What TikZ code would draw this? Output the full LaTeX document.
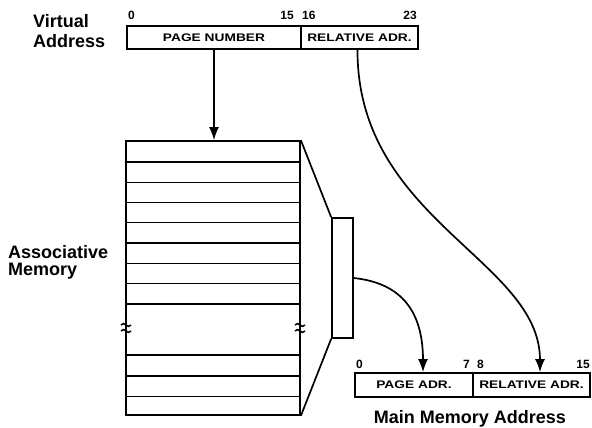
\documentclass[tikz,border=0pt]{standalone}
\usepackage{fontspec}
\setmainfont{Liberation Sans}
\newfontfamily\widefont[FakeStretch=1.25]{Liberation Sans}
\usetikzlibrary{arrows.meta,calc}
\begin{document}
\begin{tikzpicture}[x=1pt,y=-1pt,
  frame/.style={draw,line width=1.7pt,inner sep=0pt},
  field/.style={frame,minimum height=23pt,font=\widefont\bfseries\fontsize{11}{12}\selectfont},
  big/.style={font=\bfseries\fontsize{18}{20}\selectfont,inner sep=0pt},
  num/.style={font=\bfseries\fontsize{12}{13}\selectfont,inner sep=0pt},
  row/.style={line width=1.5pt},
  arr/.style={line width=1.7pt,-{Latex[length=13pt,width=10pt]}}]
\useasboundingbox (0,0) rectangle (592,428);

% Virtual address
\node[field,minimum width=174pt] (va1) at (214,37.5) {PAGE NUMBER};
\node[field,minimum width=117pt] (va2) at (359.5,37.5) {RELATIVE ADR.};
\node[big,anchor=base west] (vt1) at (33,28) {Virtual};
\node[big,anchor=base west] (vt2) at (33,48) {Address};
\node[num,anchor=base west] (n0) at (128,20) {0};
\node[num,anchor=base east] (n15) at (294,20) {15};
\node[num,anchor=base west] (n16) at (302,20) {16};
\node[num,anchor=base east] (n23) at (417,20) {23};

% Associative memory
\node[frame,minimum width=174pt,minimum height=274pt] (mem) at (213,278) {};
\foreach \y in {162,182.3,202.5,222.7,243,263.3,283.5,304,355,376,396.5}
  \draw[row] (mem.west |- 0,\y) -- (mem.east |- 0,\y);
\node[big,anchor=base west] (am1) at (8,258) {Associative};
\node[big,anchor=base west] (am2) at (8,275) {Memory};
\foreach \x in {126,300}{
  \draw[line width=1.5pt] (\x-5,325) .. controls (\x-2,320) and (\x+2,330) .. (\x+5,325);
  \draw[line width=1.5pt] (\x-5,331) .. controls (\x-2,326) and (\x+2,336) .. (\x+5,331);
}

% selector
\node[frame,minimum width=21pt,minimum height=120pt] (sel) at (342.5,278) {};
\draw[line width=1.7pt] (mem.north east) -- (sel.north west);
\draw[line width=1.7pt] (mem.south east) -- (sel.south west);

% Main memory address
\node[field,minimum width=118pt,minimum height=24pt] (ma1) at (414,385) {PAGE ADR.};
\node[field,minimum width=117pt,minimum height=24pt] (ma2) at (531.5,385) {RELATIVE ADR.};
\node[num,anchor=base west] (m0) at (356,368) {0};
\node[num,anchor=base east] (m7) at (470,368) {7};
\node[num,anchor=base west] (m8) at (477,368) {8};
\node[num,anchor=base east] (m15) at (590,368) {15};
\node[big,anchor=base] (mt) at (470,423) {Main Memory Address};

% connectors
\draw[arr] (va1.south) -- (va1.south |- mem.north);
\draw[arr] (sel.east) .. controls (390,282) and (423,300) .. ($(ma1.north)+(9,0)$);
\draw[arr] ($(va2.south)+(-2,0)$) .. controls (357,220) and (540,260) .. ($(ma2.north)+(8.5,0)$);
\end{tikzpicture}
\end{document}
